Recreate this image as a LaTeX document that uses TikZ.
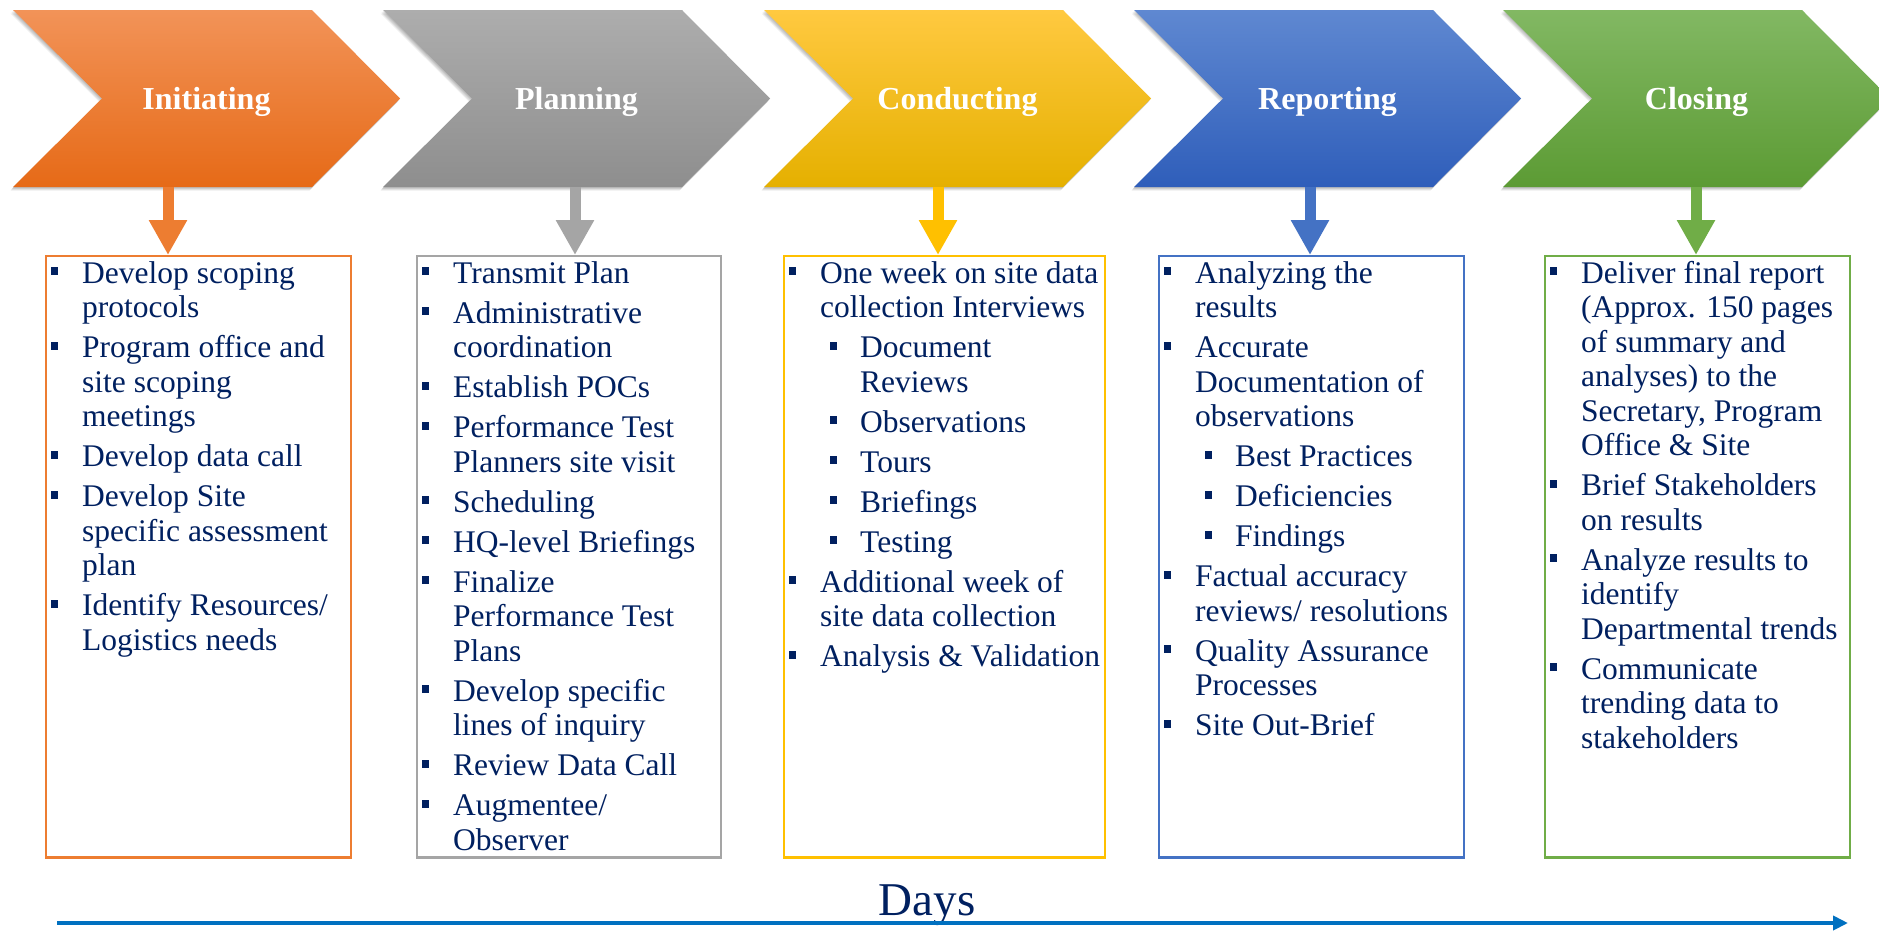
\documentclass[tikz,border=0pt]{standalone}
\usepackage{fontspec}
\setmainfont{Liberation Serif}
\usetikzlibrary{arrows.meta,calc}

\definecolor{navy}{HTML}{002060}
\definecolor{cOr}{HTML}{ED7D31}
\definecolor{cGr}{HTML}{A5A5A5}
\definecolor{cYe}{HTML}{FFC000}
\definecolor{cBl}{HTML}{4472C4}
\definecolor{cGn}{HTML}{70AD47}
\definecolor{dblue}{HTML}{0070C0}
\definecolor{orT}{HTML}{F29358}
\definecolor{orB}{HTML}{E66A17}
\definecolor{grT}{HTML}{ADADAD}
\definecolor{grB}{HTML}{8E8E8E}
\definecolor{yeT}{HTML}{FFC940}
\definecolor{yeB}{HTML}{E5B000}
\definecolor{blT}{HTML}{5F88D1}
\definecolor{blB}{HTML}{2F5EBA}
\definecolor{gnT}{HTML}{82B863}
\definecolor{gnB}{HTML}{5C9B34}

\newcommand\bul{\rule[8pt]{7pt}{8pt}}
\newcommand\itA[1]{\par\hangindent=37pt\hangafter=1\noindent\hbox to 37pt{\hskip6pt\bul\hfil}#1}
\newcommand\itB[1]{\par\hangindent=77pt\hangafter=1\noindent\hbox to 77pt{\hskip47pt\bul\hfil}#1}
\newcommand\listbox[1]{\parbox[t]{360pt}{\fontsize{31.5pt}{34.5pt}\selectfont\raggedright\parskip=5.5pt #1}}

\tikzset{
  chevlabel/.style={minimum width=387pt,minimum height=177pt,inner sep=0pt,text=white,text depth=0pt,
    font=\fontsize{32pt}{36pt}\selectfont\bfseries},
  chevshadow/.style={fill=black,fill opacity=0.07},
  phasebox/.style={draw=#1,line width=1.5pt,minimum height=601pt,inner sep=0pt,anchor=north west},
  boxbottom/.style={draw=#1,line width=3pt},
  txt/.style={inner sep=0pt,anchor=base west,text=navy},
  blockarrow/.style={draw=#1,line width=11pt,-{Triangle[width=36pt,length=35pt]}},
}

\newcommand\chevpath[1]{(#1,10) -- ++(299,0) -- ++(88,88.5) -- ++(-88,88.5) -- ++(-299,0) -- ++(89,-88.5) -- cycle}
\newcommand\chev[5]{%
  \foreach \s in {1,2,3,4}{\fill[chevshadow,shift={(-0.6*\s,0.9*\s)}] \chevpath{#2};}
  \shade[top color=#3,bottom color=#4] \chevpath{#2};
  \node[chevlabel] (#1) at ({#2+193.5},98.5) {#5};
}

\begin{document}
\begin{tikzpicture}[x=1pt,y=-1pt]
\useasboundingbox (0,0) rectangle (1879,930);
\fill[white] (0,0) rectangle (1879,930);
\clip (0,0) rectangle (1879,930);

% chevrons
\chev{c1}{13}{orT}{orB}{Initiating}
\chev{c2}{383}{grT}{grB}{Planning}
\chev{c3}{764}{yeT}{yeB}{Conducting}
\chev{c4}{1134}{blT}{blB}{Reporting}
\chev{c5}{1503}{gnT}{gnB}{Closing}

% boxes
\node[phasebox=cOr,minimum width=305pt] (b1) at (45,255) {};
\node[phasebox=cGr,minimum width=304pt] (b2) at (416,255) {};
\node[phasebox=cYe,minimum width=321pt] (b3) at (783,255) {};
\node[phasebox=cBl,minimum width=305pt] (b4) at (1158,255) {};
\node[phasebox=cGn,minimum width=305pt] (b5) at (1544,255) {};
\draw[boxbottom=cOr] (b1.south west) -- (b1.south east);
\draw[boxbottom=cGr] (b2.south west) -- (b2.south east);
\draw[boxbottom=cYe] (b3.south west) -- (b3.south east);
\draw[boxbottom=cBl] (b4.south west) -- (b4.south east);
\draw[boxbottom=cGn] (b5.south west) -- (b5.south east);

% arrows from phases to boxes
\coordinate (a1) at (168,0);
\coordinate (a2) at (575,0);
\coordinate (a3) at (938,0);
\coordinate (a4) at (1310,0);
\coordinate (a5) at (1696,0);
\draw[blockarrow=cOr] (c1.south -| a1) -- (b1.north -| a1);
\draw[blockarrow=cGr] (c2.south -| a2) -- (b2.north -| a2);
\draw[blockarrow=cYe] (c3.south -| a3) -- (b3.north -| a3);
\draw[blockarrow=cBl] (c4.south -| a4) -- (b4.north -| a4);
\draw[blockarrow=cGn] (c5.south -| a5) -- (b5.north -| a5);

% texts
\node[txt] (t1) at (45,283) {\listbox{%
\itA{Develop scoping\newline protocols}
\itA{Program office and\newline site scoping\newline meetings}
\itA{Develop data call}
\itA{Develop Site\newline specific assessment\newline plan}
\itA{Identify Resources/\newline Logistics needs}}};

\node[txt] (t2) at (416,283) {\listbox{%
\itA{Transmit Plan}
\itA{Administrative\newline coordination}
\itA{Establish POCs}
\itA{Performance Test\newline Planners site visit}
\itA{Scheduling}
\itA{HQ-level Briefings}
\itA{Finalize\newline Performance Test\newline Plans}
\itA{Develop specific\newline lines of inquiry}
\itA{Review Data Call}
\itA{Augmentee/\newline Observer}}};

\node[txt] (t3) at (783,283) {\listbox{%
\itA{One week on site data\newline collection Interviews}
\itB{Document\newline Reviews}
\itB{Observations}
\itB{Tours}
\itB{Briefings}
\itB{Testing}
\itA{Additional week of\newline site data collection}
\itA{Analysis \& Validation}}};

\node[txt] (t4) at (1158,283) {\listbox{%
\itA{Analyzing the\newline results}
\itA{Accurate\newline Documentation of\newline observations}
\itB{Best Practices}
\itB{Deficiencies}
\itB{Findings}
\itA{Factual accuracy\newline reviews/ resolutions}
\itA{Quality Assurance\newline Processes}
\itA{Site Out-Brief}}};

\node[txt] (t5) at (1544,283) {\listbox{%
\itA{Deliver final report\newline (Approx. 150 pages\newline of summary and\newline analyses) to the\newline Secretary, Program\newline Office \& Site}
\itA{Brief Stakeholders\newline on results}
\itA{Analyze results to\newline identify\newline Departmental trends}
\itA{Communicate\newline trending data to\newline stakeholders}}};

% timeline
\node[anchor=base,inner sep=0pt,text=navy,font=\fontsize{47pt}{50pt}\selectfont] (days) at (927,915) {Days};
\coordinate (d0) at (57,923);
\coordinate (d1) at (1848,923);
\draw[dblue,line width=4pt,-{Triangle[width=14pt,length=15pt]}] (d0) -- (d1);
\end{tikzpicture}
\end{document}
